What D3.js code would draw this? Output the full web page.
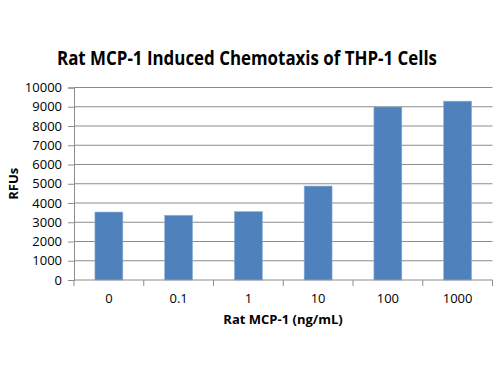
<!DOCTYPE html>
<html lang="en">
<head>
    <meta charset="UTF-8">
    <title>Rat MCP-1 Induced Chemotaxis of THP-1 Cells</title>
    <script src="https://cdn.jsdelivr.net/npm/d3@7"></script>
    <style>
        body {margin: 0; background: white;}
        text {font-family: "Open Sans", "Liberation Sans", sans-serif; fill: #000;}
    </style>
</head>
<body>
<script>
    const doses  = ["0", "0.1", "1", "10", "100", "1000"];
    const rfus   = [3530, 3360, 3550, 4880, 8990, 9290];
    const yTicks = [0, 1000, 2000, 3000, 4000, 5000, 6000, 7000, 8000, 9000, 10000];

    const width = 500, height = 375;
    const margin = {top: 87.5, right: 7.5, bottom: 95, left: 74};

    const svg = d3.select("body").append("svg")
        .attr("width", width).attr("height", height);

    const x = d3.scaleBand().domain(doses)
        .range([margin.left, width - margin.right])
        .paddingInner(0.6).paddingOuter(0.3);

    const y = d3.scaleLinear().domain([0, 10000])
        .range([height - margin.bottom, margin.top]);

    // gridlines
    svg.append("g")
        .selectAll("line")
        .data(yTicks.filter(d => d > 0))
        .join("line")
        .attr("x1", margin.left).attr("x2", width - margin.right)
        .attr("y1", d => y(d)).attr("y2", d => y(d))
        .style("stroke", "#8c8c8c").style("stroke-width", 1);

    // bars
    svg.append("g")
        .selectAll("rect")
        .data(rfus)
        .join("rect")
        .attr("x", (d, i) => x(doses[i]))
        .attr("y", d => y(d))
        .attr("width", x.bandwidth())
        .attr("height", d => y(0) - y(d))
        .style("fill", "#4f81bd")
        .style("stroke", "#8fb0d8").style("stroke-width", 0.6);

    // y axis
    const yAxis = svg.append("g")
        .attr("transform", `translate(${margin.left},0)`)
        .call(d3.axisLeft(y).tickValues(yTicks).tickSize(6).tickPadding(6).tickFormat(d3.format("d")));
    yAxis.selectAll("path, line").style("stroke", "#8c8c8c");
    yAxis.selectAll("text").style("font-size", "13px").attr("font-family", null);

    // x axis with ticks between categories
    const xAxisG = svg.append("g").attr("transform", `translate(0,${y(0)})`);
    xAxisG.append("line")
        .attr("x1", margin.left).attr("x2", width - margin.right)
        .style("stroke", "#8c8c8c");
    xAxisG.selectAll("line.tick")
        .data(d3.range(doses.length + 1))
        .join("line").attr("class", "tick")
        .attr("x1", i => margin.left + i * x.step())
        .attr("x2", i => margin.left + i * x.step())
        .attr("y1", 0).attr("y2", 6)
        .style("stroke", "#8c8c8c");
    xAxisG.selectAll("text")
        .data(doses)
        .join("text")
        .attr("x", d => x(d) + x.bandwidth() / 2)
        .attr("y", 23)
        .style("text-anchor", "middle")
        .style("font-size", "13px")
        .text(d => d);

    // title
    svg.append("text")
        .attr("x", 247).attr("y", 65)
        .style("text-anchor", "middle")
        .style("font-size", "19px").style("font-weight", "bold")
        .attr("textLength", 380).attr("lengthAdjust", "spacingAndGlyphs")
        .text("Rat MCP-1 Induced Chemotaxis of THP-1 Cells");

    // axis titles
    svg.append("text")
        .attr("x", 283).attr("y", 324)
        .style("text-anchor", "middle")
        .style("font-size", "13px").style("font-weight", "bold")
        .text("Rat MCP-1 (ng/mL)");

    svg.append("text")
        .attr("transform", `translate(18,${(y(0) + y(10000)) / 2}) rotate(-90)`)
        .style("text-anchor", "middle")
        .style("font-size", "13px").style("font-weight", "bold")
        .text("RFUs");
</script>
</body>
</html>
